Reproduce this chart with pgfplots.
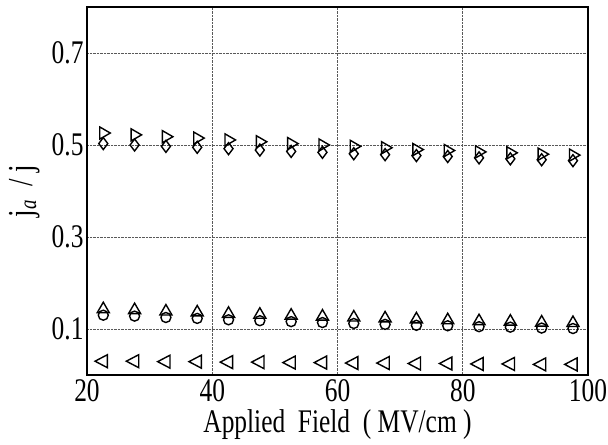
\documentclass[border=0pt]{standalone}
\usepackage{fontspec}
\setmainfont{Liberation Serif}[FakeStretch=0.77]
\usepackage{pgfplots}
\pgfplotsset{compat=1.18}

\begin{document}
\begin{tikzpicture}
\begin{axis}[
  scale only axis, width=501pt, height=368pt,
  xmin=20, xmax=100, ymin=0, ymax=0.8,
  xtick={20,40,60,80,100}, ytick={0.1,0.3,0.5,0.7},
  /pgf/number format/assume math mode=true,
  yticklabel style={/pgf/number format/fixed, /pgf/number format/fixed zerofill, /pgf/number format/precision=1},
  tick label style={font=\fontsize{33}{38}\selectfont},
  label style={font=\fontsize{33}{38}\selectfont},
  grid=major, major grid style={black!65, densely dotted, line width=0.9pt},
  axis line style={line width=1.8pt},
  tick style={draw=none},
  xticklabel style={yshift=-1pt},
  xlabel={Applied\ \ Field\ \ ( MV/cm )},
  ylabel={j\textsubscript{\itshape a} ~/ j},
  xlabel style={yshift=-1pt},
  ylabel style={yshift=5pt, font=\fontsize{35}{40}\selectfont},
  every axis plot/.append style={only marks, black},
]
% upper pair
\addplot[mark=triangle, mark size=7pt, mark options={rotate=-90, line width=1.4pt, black}] coordinates {
(22.6,0.526) (27.6,0.522) (32.6,0.518) (37.6,0.515) (42.6,0.511) (47.6,0.507) (52.6,0.503) (57.6,0.500)
(62.6,0.497) (67.6,0.494) (72.6,0.490) (77.6,0.488) (82.6,0.485) (87.6,0.483) (92.6,0.480) (97.6,0.478)};
\addplot[mark=diamond, mark size=6pt, mark options={line width=1.4pt, black}] coordinates {
(22.6,0.503) (27.6,0.500) (32.6,0.497) (37.6,0.495) (42.6,0.492) (47.6,0.489) (52.6,0.486) (57.6,0.484)
(62.6,0.481) (67.6,0.479) (72.6,0.477) (77.6,0.475) (82.6,0.472) (87.6,0.470) (92.6,0.468) (97.6,0.466)};
% lower group
\addplot[mark=triangle, mark size=7pt, mark options={line width=1.4pt, black}] coordinates {
(22.6,0.143) (27.6,0.141) (32.6,0.138) (37.6,0.136) (42.6,0.133) (47.6,0.131) (52.6,0.129) (57.6,0.127)
(62.6,0.125) (67.6,0.123) (72.6,0.121) (77.6,0.119) (82.6,0.117) (87.6,0.116) (92.6,0.114) (97.6,0.113)};
\addplot[mark=o, mark size=5pt, mark options={line width=1.4pt, black}] coordinates {
(22.6,0.130) (27.6,0.128) (32.6,0.125) (37.6,0.123) (42.6,0.120) (47.6,0.118) (52.6,0.116) (57.6,0.114)
(62.6,0.112) (67.6,0.110) (72.6,0.108) (77.6,0.107) (82.6,0.105) (87.6,0.104) (92.6,0.102) (97.6,0.101)};
\addplot[mark=triangle, mark size=7.5pt, mark options={rotate=90, yscale=1.1, line width=1.4pt, black}] coordinates {
(22.6,0.030) (27.6,0.030) (32.6,0.029) (37.6,0.029) (42.6,0.028) (47.6,0.028) (52.6,0.027) (57.6,0.027)
(62.6,0.026) (67.6,0.026) (72.6,0.025) (77.6,0.025) (82.6,0.024) (87.6,0.024) (92.6,0.023) (97.6,0.023)};
\end{axis}
\pgfresetboundingbox
\path[use as bounding box] ([xshift=-87pt,yshift=-70pt]current axis.south west) rectangle ([xshift=20pt,yshift=7pt]current axis.north east);
\end{tikzpicture}
\end{document}
